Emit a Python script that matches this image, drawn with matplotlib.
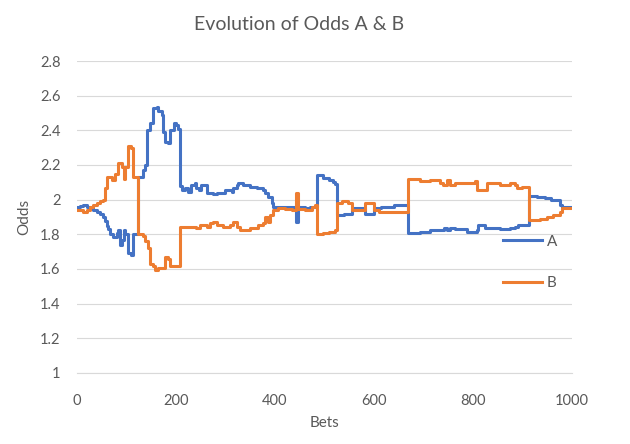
import matplotlib
matplotlib.use("Agg")
import matplotlib.pyplot as plt

# breakpoints (bet number, odds), drawn as steps
bets_a = [0, 6, 13, 20, 26, 33, 40, 46, 53, 57, 60, 63, 67, 73, 80, 83, 87, 90, 94, 97,
          104, 110, 114, 121, 124, 133, 137, 141, 147, 154, 161, 164, 171, 174, 178, 184,
          188, 195, 201, 205, 208, 213, 219, 224, 231, 238, 241, 246, 250, 263, 275, 283,
          299, 313, 315, 323, 325, 335, 349, 364, 376, 380, 386, 394, 396, 410, 420, 443,
          446, 460, 470, 480, 484, 497, 510, 517, 521, 525, 540, 550, 555, 582, 599, 615,
          640, 669, 693, 713, 741, 747, 754, 764, 787, 808, 811, 821, 824, 855, 875, 885,
          890, 914, 930, 945, 958, 975, 979, 1000]
odds_a = [1.96, 1.965, 1.97, 1.96, 1.95, 1.94, 1.93, 1.92, 1.90, 1.875, 1.85, 1.83, 1.80,
          1.785, 1.81, 1.825, 1.74, 1.77, 1.825, 1.80, 1.69, 1.68, 1.80, 1.80, 2.13, 2.17,
          2.20, 2.40, 2.44, 2.53, 2.535, 2.51, 2.49, 2.39, 2.33, 2.325, 2.40, 2.44, 2.43,
          2.41, 2.08, 2.055, 2.07, 2.045, 2.085, 2.095, 2.07, 2.055, 2.085, 2.04, 2.03,
          2.04, 2.055, 2.045, 2.07, 2.085, 2.095, 2.085, 2.075, 2.07, 2.055, 2.04, 2.015,
          1.98, 1.96, 1.955, 1.96, 1.87, 1.955, 1.95, 1.96, 1.955, 2.14, 2.125, 2.115,
          2.10, 2.09, 1.91, 1.915, 1.92, 1.95, 1.92, 1.95, 1.96, 1.97, 1.805, 1.815, 1.825,
          1.835, 1.825, 1.835, 1.83, 1.815, 1.825, 1.855, 1.855, 1.835, 1.83, 1.835,
          1.845, 1.855, 2.02, 2.015, 2.01, 2.0, 1.97, 1.955, 1.955]

bets_b = [0, 13, 20, 26, 33, 40, 46, 53, 57, 60, 70, 77, 83, 90, 94, 97, 104, 110, 114,
          124, 133, 137, 144, 147, 154, 158, 164, 171, 178, 184, 188, 201, 208, 220, 240,
          248, 263, 269, 275, 283, 295, 309, 315, 323, 329, 349, 366, 376, 380, 386, 390,
          396, 406, 420, 435, 443, 446, 460, 475, 480, 484, 497, 510, 521, 525, 535, 548,
          555, 582, 599, 610, 669, 693, 713, 733, 739, 747, 754, 764, 804, 808, 828, 855,
          875, 885, 888, 898, 914, 935, 949, 962, 976, 979, 1000]
odds_b = [1.94, 1.93, 1.94, 1.96, 1.97, 1.98, 1.99, 2.0, 2.065, 2.13, 2.115, 2.15, 2.21,
          2.19, 2.12, 2.19, 2.31, 2.30, 2.13, 1.80, 1.79, 1.76, 1.72, 1.63, 1.62, 1.595,
          1.605, 1.605, 1.67, 1.66, 1.615, 1.62, 1.845, 1.84, 1.835, 1.855, 1.84, 1.865,
          1.87, 1.855, 1.84, 1.855, 1.87, 1.845, 1.825, 1.835, 1.855, 1.865, 1.90, 1.87,
          1.91, 1.94, 1.95, 1.945, 1.94, 2.04, 1.945, 1.94, 1.96, 1.97, 1.80, 1.81, 1.815,
          1.825, 1.98, 1.99, 1.98, 1.94, 1.98, 1.94, 1.93, 2.12, 2.105, 2.115, 2.095,
          2.085, 2.115, 2.085, 2.095, 2.105, 2.055, 2.095, 2.085, 2.095, 2.085, 2.07,
          2.075, 1.885, 1.89, 1.90, 1.91, 1.93, 1.95, 1.95]

x_ticks = [0, 200, 400, 600, 800, 1000]
y_ticks = [1, 1.2, 1.4, 1.6, 1.8, 2, 2.2, 2.4, 2.6, 2.8]
y_labels = ["1", "1.2", "1.4", "1.6", "1.8", "2", "2.2", "2.4", "2.6", "2.8"]

plt.rcParams["font.family"] = ["Lato", "DejaVu Sans"]
TXT = "#595959"

fig = plt.figure(figsize=(6.3, 4.44), dpi=100)
ax = fig.add_axes([77 / 630, 1 - 373 / 444, 495 / 630, 312 / 444])

ax.plot(bets_a, odds_a, drawstyle="steps-post", color="#4472C4", lw=2.2, label="A")
ax.plot(bets_b, odds_b, drawstyle="steps-post", color="#ED7D31", lw=2.2, label="B")

ax.set_xlim(0, 1000)
ax.set_ylim(1, 2.8)
ax.set_xticks(x_ticks)
ax.set_yticks(y_ticks)
ax.set_yticklabels(y_labels)
ax.tick_params(length=0, labelsize=10.5, colors=TXT)
ax.tick_params(axis="y", pad=12)
ax.tick_params(axis="x", pad=15)
ax.grid(axis="y", color="#D9D9D9", lw=0.8)
ax.set_axisbelow(True)
for s in ("top", "right", "left"):
    ax.spines[s].set_visible(False)
ax.spines["bottom"].set_color("#D9D9D9")

ax.set_xlabel("Bets", fontsize=11, color=TXT, labelpad=6)
ax.set_ylabel("Odds", fontsize=11, color=TXT, labelpad=6)
fig.suptitle("Evolution of Odds A & B", x=0.475, y=0.965, fontsize=14, color=TXT)

ax.legend(loc="center left", bbox_to_anchor=(0.86, 0.354), frameon=False,
          fontsize=11, labelcolor=TXT, handlelength=2.6, handletextpad=0.3,
          labelspacing=1.8, borderaxespad=0, borderpad=0)

fig.savefig("out.png", dpi=100)
